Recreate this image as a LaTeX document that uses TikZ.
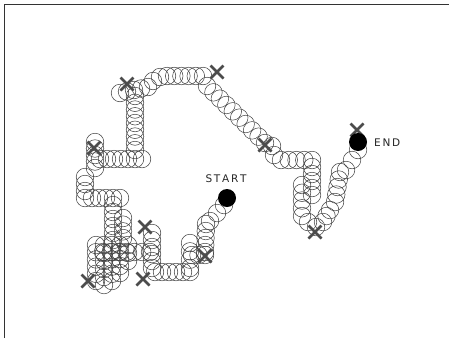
\documentclass[tikz,border=0pt]{standalone}
\usepackage{fontspec}
\setmainfont{DejaVu Sans}
\usetikzlibrary{calc}
\tikzset{
  ring/.style={draw=black!75, line width=0.5pt},
  crossmark/.style={draw=black!70, line width=2.6pt},
  dot/.style={circle, fill=black, inner sep=0pt, minimum size=18pt},
  lbl/.style={font=\fontsize{10.5}{11}\selectfont, inner sep=0pt, text=black!85},
  frame/.style={draw=black!80, line width=1.2pt}
}
\newcommand\segc[5]{\foreach \i in {0,...,#5}{\draw[ring] ($(#1,#2)!\i/#5!(#3,#4)$) circle[radius=8.8pt];}}
\newcommand\xmark[2]{\draw[crossmark] (#1-6.5,#2-6.5) -- (#1+6.5,#2+6.5) (#1-6.5,#2+6.5) -- (#1+6.5,#2-6.5);}
\begin{document}
\begin{tikzpicture}[x=1pt,y=-1pt]
\useasboundingbox (0,0) rectangle (449,338);
\fill[white] (0,0) rectangle (449,338);
\draw[frame] (4.5,338) -- (4.5,4.5) -- (449,4.5);
% path of circles
\segc{224}{205}{210}{221}{2}
\segc{206}{224}{205}{252}{4}
\segc{205}{255}{192}{255}{2}
\segc{190}{243}{190}{268}{3}
\segc{190}{272}{155}{272}{5}
\segc{152}{268}{152}{233}{5}
\segc{150}{252}{103}{252}{6}
\segc{96}{245}{96}{281}{5}
\segc{104}{245}{104}{285}{5}
\segc{112}{245}{112}{281}{5}
\segc{120}{245}{120}{273}{4}
\segc{128}{245}{128}{261}{2}
\segc{113}{240}{113}{205}{5}
\segc{123}{238}{123}{218}{3}
\segc{120}{198}{85}{198}{5}
\segc{85}{191}{85}{177}{2}
\segc{95}{168}{95}{142}{4}
\segc{100}{159}{142}{159}{6}
\segc{135}{150}{135}{96}{8}
\segc{120}{93}{148}{87}{4}
\segc{153}{81}{160}{77}{1}
\segc{167}{76}{203}{76}{5}
\segc{207}{86}{265}{143}{9}
\segc{272}{146}{274}{155}{1}
\segc{281}{160}{312}{160}{4}
\segc{312}{167}{312}{195}{4}
\segc{302}{185}{302}{216}{4}
\segc{308}{222}{316}{227}{1}
\segc{323}{222}{330}{210}{2}
\segc{335}{202}{340}{172}{4}
\segc{346}{170}{358}{150}{2}
% crosses
\xmark{127}{84}
\xmark{217}{72}
\xmark{94}{148}
\xmark{265}{145}
\xmark{357}{130}
\xmark{145}{227}
\xmark{205}{256}
\xmark{88}{281}
\xmark{143}{279}
\xmark{315}{232}
% start / end
\node[dot] (start) at (227,198) {};
\node[dot] (end) at (358,142) {};
\node[lbl] (starttext) at (226,179) {S\,T\,A\,R\,T};
\node[lbl, anchor=west] (endtext) at (374,143) {E\,N\,D};
\end{tikzpicture}
\end{document}
